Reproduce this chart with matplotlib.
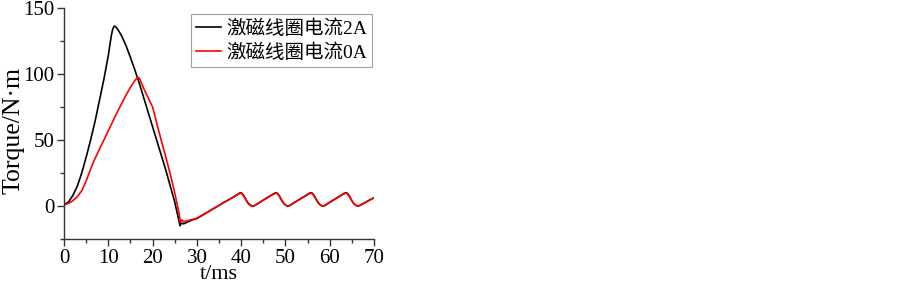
import numpy as np
import matplotlib.pyplot as plt
from matplotlib.ticker import MultipleLocator

plt.rcParams['font.family'] = ['Liberation Serif', 'Noto Sans CJK SC', 'DejaVu Sans']

# 激磁线圈电流2A
t_2a = [0, 1, 2, 3, 4, 5, 6, 7, 8, 9, 10, 10.4, 10.7, 11.0, 11.3, 11.6, 12, 13, 14, 15, 16, 17,
        18, 19, 20, 21, 22, 23, 24, 25, 26, 26.2, 26.5, 27, 28, 29, 30, 32, 34, 36,
        38, 39, 39.5, 39.8, 40.2, 40.7, 41.2, 41.7, 42.2, 42.7,
        43.1, 44.2, 45.7, 47.0, 47.5, 47.8, 48.2, 48.7, 49.2, 49.7, 50.2, 50.6,
        51.0, 52.1, 53.6, 54.9, 55.4, 55.7, 56.1, 56.6, 57.1, 57.6, 58.1, 58.5,
        58.9, 60.0, 61.5, 62.8, 63.3, 63.6, 64.0, 64.5, 65.0, 65.5, 66.0, 66.4,
        66.8, 68.0, 69.0, 70.0]
T_2a = [1, 3, 8, 15, 25, 37, 50, 64, 80, 96, 114, 123, 129.5, 134, 136.2, 136, 134.5, 129, 121.5, 112.5, 103, 93,
        82, 71, 60, 49, 38, 27, 15, 3, -12, -15, -13, -13.5, -12, -10.5, -9.5, -5.5, -1.5, 2.5,
        6.3, 8.4, 9.5, 10, 9.6, 7.2, 4, 1.6, 0.3, 0,
        0.4, 2.8, 5.9, 8.6, 9.6, 10, 9.6, 7.2, 4, 1.6, 0.3, 0,
        0.4, 2.8, 5.9, 8.6, 9.6, 10, 9.6, 7.2, 4, 1.6, 0.3, 0,
        0.4, 2.8, 5.9, 8.6, 9.6, 10, 9.6, 7.2, 4, 1.6, 0.3, 0,
        0.4, 2.6, 4.5, 6.2]

# 激磁线圈电流0A
t_0a = [0, 1, 2, 3, 4, 5, 6, 7, 8, 9, 10, 11, 12, 13, 14, 15, 16, 16.6, 17, 18,
        19, 20, 21, 22, 23, 24, 25, 26, 26.3, 26.6, 27, 27.5, 28, 30, 32, 34, 36,
        38, 39, 39.5, 39.8, 40.2, 40.7, 41.2, 41.7, 42.2, 42.7,
        43.1, 44.2, 45.7, 47.0, 47.5, 47.8, 48.2, 48.7, 49.2, 49.7, 50.2, 50.6,
        51.0, 52.1, 53.6, 54.9, 55.4, 55.7, 56.1, 56.6, 57.1, 57.6, 58.1, 58.5,
        58.9, 60.0, 61.5, 62.8, 63.3, 63.6, 64.0, 64.5, 65.0, 65.5, 66.0, 66.4,
        66.8, 68.0, 69.0, 70.0]
T_0a = [0.8, 2, 4, 7, 11.5, 19, 28, 36, 43, 50, 57, 64, 71, 77.5, 84, 90, 95, 97.5, 97, 89,
        82, 75, 62, 49, 37, 24, 10, -6, -12.5, -10.5, -12, -11.5, -11, -9.3, -5.5, -1.5, 2.5,
        6.2, 8.2, 9.2, 9.6, 9.3, 7.0, 3.9, 1.5, 0.3, 0,
        0.4, 2.8, 5.8, 8.4, 9.3, 9.6, 9.3, 7.0, 3.9, 1.5, 0.3, 0,
        0.4, 2.8, 5.8, 8.4, 9.3, 9.6, 9.3, 7.0, 3.9, 1.5, 0.3, 0,
        0.4, 2.8, 5.8, 8.4, 9.3, 9.6, 9.3, 7.0, 3.9, 1.5, 0.3, 0,
        0.4, 2.6, 4.5, 6.2]

labels = ['激磁线圈电流2A', '激磁线圈电流0A']

fig = plt.figure(figsize=(9.03, 2.84), dpi=100)
ax = fig.add_axes([0.0709, 0.1585, 0.3433, 0.8133])

ax.plot(t_2a, T_2a, color='black', lw=1.2, label=labels[0])
ax.plot(t_0a, T_0a, color='red', lw=1.2, label=labels[1])

ax.set_xlim(0, 70)
ax.set_ylim(-25, 150)
ax.xaxis.set_major_locator(MultipleLocator(10))
ax.xaxis.set_minor_locator(MultipleLocator(5))
ax.yaxis.set_major_locator(MultipleLocator(50))
ax.yaxis.set_minor_locator(MultipleLocator(25))

for s in ['top', 'right']:
    ax.spines[s].set_visible(False)
for s in ['left', 'bottom']:
    ax.spines[s].set_color('#333333')
    ax.spines[s].set_linewidth(1.0)

ax.tick_params(which='major', direction='out', length=5, width=1, labelsize=15, colors='#333333', labelcolor='black', pad=2)
ax.tick_params(which='minor', direction='out', length=3, width=1, colors='#333333')

ax.set_xlabel('t/ms', fontsize=16, labelpad=-2)
ax.set_ylabel('Torque/N·m', fontsize=18.5)
ax.yaxis.set_label_coords(-0.128, 0.47)

leg = ax.legend(loc='upper right', bbox_to_anchor=(1.005, 0.99), fontsize=14, fancybox=False,
                handlelength=1.3, handletextpad=0.25, borderpad=0.25, labelspacing=0.3,
                borderaxespad=0.2)
leg.get_frame().set_edgecolor('#888888')
leg.get_frame().set_linewidth(0.8)

fig.savefig('out.png', dpi=100)
